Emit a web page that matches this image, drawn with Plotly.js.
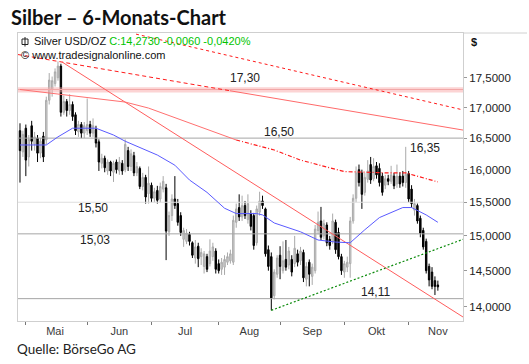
<!DOCTYPE html>
<html><head><meta charset="utf-8">
<script src="https://cdn.plot.ly/plotly-3.0.1.min.js"></script>
<style>html,body{margin:0;padding:0;background:#fff;}#chart{width:529px;height:364px;}</style>
</head><body><div id="chart"></div>
<script>
// ---- daily OHLC (trading-day index 0..143, late April .. mid November) ----
const open = [16.62,16.28,16.66,16.20,16.70,16.40,16.50,16.26,16.53,16.47,
17.12,17.30,17.40,17.50,17.70,16.92,17.10,16.95,17.05,16.88,
16.60,16.72,16.58,16.62,16.72,16.58,16.64,16.44,16.10,16.18,
15.98,16.12,15.96,16.12,15.98,16.10,16.00,16.30,16.05,16.22,
15.95,16.02,15.74,15.88,15.63,15.76,15.56,15.68,15.55,15.70,
15.72,15.06,15.30,15.55,15.48,15.30,14.95,14.92,15.02,14.90,
14.68,14.85,14.70,14.56,14.70,14.60,14.70,14.78,14.60,14.52,
14.55,14.62,14.64,14.62,15.20,15.42,15.28,15.45,15.24,15.33,
15.30,14.90,15.35,15.52,15.40,14.80,14.70,14.15,14.45,14.72,
14.50,14.66,14.58,14.66,14.60,14.74,14.64,14.76,14.38,14.62,
14.42,14.50,15.08,15.22,15.00,15.16,14.95,14.92,15.20,15.05,
14.70,14.48,14.55,14.60,15.22,15.56,16.00,15.95,15.65,15.85,
16.08,15.86,16.06,16.02,15.90,15.76,15.86,15.82,15.90,15.78,
15.90,15.90,15.80,15.94,15.70,15.38,15.45,15.26,15.08,14.92,
14.56,14.48,14.36,14.30];
const high = [16.74,16.62,16.72,16.55,16.78,16.60,16.55,16.50,16.60,17.18,
17.58,17.52,17.66,17.78,17.74,17.20,17.14,17.22,17.10,16.92,
16.78,16.76,16.76,17.15,16.78,16.82,16.70,16.48,16.25,16.22,
16.16,16.14,16.14,16.16,16.20,16.15,16.48,16.36,16.32,16.28,
16.12,16.05,15.95,15.92,16.05,15.80,15.72,15.75,15.80,15.90,
15.78,15.36,15.62,15.90,15.55,15.35,15.12,15.10,15.06,14.92,
14.94,14.90,14.82,14.78,14.74,14.95,14.90,14.82,14.66,14.68,
14.72,14.76,14.80,15.30,15.48,15.62,15.60,15.52,15.62,15.38,
15.34,15.45,15.66,15.60,15.42,14.86,14.76,14.52,14.72,14.85,
14.92,14.94,14.84,14.72,15.00,14.80,14.84,14.80,14.62,14.66,
14.60,15.16,15.36,15.43,15.24,15.20,15.00,15.33,15.24,15.12,
14.74,14.64,14.70,15.28,15.62,16.05,16.08,16.00,15.95,16.15,
16.20,16.18,16.12,16.10,15.95,15.92,15.92,16.06,15.95,16.08,
15.96,15.98,16.36,15.98,15.76,15.55,15.48,15.30,15.12,14.96,
14.60,14.55,14.42,14.36];
const low = [15.80,16.20,15.90,16.05,16.30,16.30,16.12,16.18,16.12,16.40,
17.05,17.18,17.35,17.45,16.85,16.88,16.85,16.88,16.78,16.55,
16.52,16.50,16.50,16.55,16.52,16.52,16.35,15.98,16.02,15.96,
15.92,15.90,15.81,15.94,15.92,15.92,15.96,15.98,15.98,15.90,
15.90,15.70,15.68,15.48,15.48,15.50,15.50,15.48,15.50,15.65,
14.65,15.00,15.22,15.40,15.15,15.00,14.84,14.88,14.86,14.68,
14.60,14.55,14.58,14.46,14.48,14.56,14.64,14.46,14.46,14.44,
14.44,14.58,14.60,14.58,15.12,15.22,15.22,15.25,15.18,15.08,
14.80,14.86,15.30,15.40,14.70,14.50,13.95,14.10,14.40,14.38,
14.46,14.50,14.52,14.42,14.55,14.56,14.58,14.34,14.28,14.28,
14.30,14.46,15.02,14.94,14.95,14.85,14.80,14.88,14.74,14.66,
14.44,14.40,14.48,14.40,15.18,15.50,15.74,15.40,15.60,15.80,
15.78,15.82,15.86,15.74,15.60,15.70,15.76,15.78,15.70,15.72,
15.72,15.74,15.72,15.50,15.42,15.30,15.18,14.98,14.80,14.46,
14.28,14.24,14.16,14.22];
const close = [16.30,16.56,16.15,16.48,16.45,16.52,16.26,16.45,16.20,17.12,
17.46,17.45,17.60,17.70,16.92,17.10,16.95,17.05,16.85,16.62,
16.72,16.58,16.70,16.72,16.58,16.70,16.42,16.12,16.18,16.03,
16.12,15.98,16.10,16.00,16.12,15.98,16.40,16.05,16.25,15.95,
16.05,15.74,15.88,15.58,15.79,15.56,15.66,15.53,15.74,15.82,
15.07,15.30,15.55,15.45,15.20,15.05,15.08,15.04,14.92,14.72,
14.84,14.67,14.76,14.74,14.52,14.78,14.84,14.52,14.50,14.62,
14.66,14.70,14.74,15.23,15.40,15.28,15.45,15.30,15.48,15.14,
14.86,15.40,15.52,15.45,14.74,14.56,14.12,14.48,14.68,14.56,
14.64,14.55,14.78,14.48,14.82,14.62,14.78,14.40,14.56,14.45,
14.55,15.10,15.20,14.98,15.18,14.90,14.86,15.22,14.80,14.70,
14.50,14.60,14.62,15.22,15.56,15.95,15.80,15.62,15.88,15.98,
15.84,16.05,15.92,15.80,15.65,15.86,15.82,15.92,15.75,15.90,
15.78,15.80,15.93,15.55,15.48,15.48,15.22,15.04,14.84,14.50,
14.37,14.28,14.279,14.273];

// ---- axis categories / ticks ----
const monthNames = ['Mai','Jun','Jul','Aug','Sep','Okt','Nov'];
const monthStart = [2,23,45,68,89,111,133];
const monthMid = [12,34,56.5,78.5,100,122,143];
const yTicks = [14,14.5,15,15.5,16,16.5,17,17.5];

// ---- indicators (index, price) ----
const maBlueX = [0,9,13,16,18,26,32,36,47,53,58,64,70,74,81,83,87,96,102,108,113,118,123,131,134,139,143];
const maBlueY = [16.39,16.39,16.52,16.61,16.66,16.66,16.55,16.45,16.23,16.07,15.84,15.65,15.41,15.33,15.33,15.31,15.19,15.06,14.94,14.91,14.90,15.09,15.27,15.42,15.42,15.31,15.20];
const maRedX = [0,10,36,44,58,74,87,96,111,126,132,143];
const maRedY = [17.30,17.24,17.09,16.99,16.75,16.47,16.31,16.15,15.97,15.95,15.95,15.81];

// trend lines (endpoints)
const X0 = -0.68, X1 = 151.6;
const trendTopX = [39.7, X1], trendTopY = [18.26, 16.96];
const trendMidDashX = [X0, 71.8], trendMidDashY = [17.90, 17.28];
const trendMidSolidX = [71.8, X1], trendMidSolidY = [17.28, 16.63];
const trendSteepX = [14.4, X1], trendSteepY = [17.77, 13.86];
const supportX = [86, X1], supportY = [13.95, 14.95];

// horizontal levels
const bandLevel = 17.30, bandLo = 17.25, bandHi = 17.34;
const greyLevels = [16.50, 15.03, 14.11];
const lightLevels = [15.50];
const levelLabels = [17.30, 16.50, 15.50, 15.03, 16.35, 14.11];
const levelLabelX = [77, 88.6, 25, 25.7, 138.6, 121.8];
const levelLabelShift = [12, 6, -6, -6, -1, 7];

const fmt = (v, d) => v.toFixed(d).replace('.', ',');
const F = 'Liberation Sans, Arial, sans-serif';
const idx = close.map((_, i) => i);

const traces = [];
traces.push({x:[X0,X1,X1,X0,X0], y:[bandHi,bandHi,bandLo,bandLo,bandHi], mode:'lines', fill:'toself',
  fillcolor:'rgba(250,170,170,0.5)', line:{width:0}, hoverinfo:'skip', showlegend:false});
traces.push({x:[X0,X1], y:[bandLevel,bandLevel], mode:'lines', line:{color:'#f2a6a6', width:1}, showlegend:false});
greyLevels.forEach(v => traces.push({x:[X0,X1], y:[v,v], mode:'lines', line:{color:'#a5a5a5', width:1}, showlegend:false}));
lightLevels.forEach(v => traces.push({x:[X0,X1], y:[v,v], mode:'lines', line:{color:'#dedede', width:1}, showlegend:false}));

traces.push({x:trendTopX, y:trendTopY, mode:'lines', line:{color:'#ff1a1a', width:1, dash:'3px,3px'}, showlegend:false});
traces.push({x:trendMidDashX, y:trendMidDashY, mode:'lines', line:{color:'#ff1a1a', width:1, dash:'4px,3px'}, showlegend:false});
traces.push({x:trendMidSolidX, y:trendMidSolidY, mode:'lines', line:{color:'#ff6a6a', width:1}, showlegend:false});
traces.push({x:trendSteepX, y:trendSteepY, mode:'lines', line:{color:'#ff5c5c', width:1}, showlegend:false});
traces.push({x:supportX, y:supportY, mode:'lines', line:{color:'#0a8a0a', width:1.2, dash:'2px,2px'}, showlegend:false});

const redSolid = maRedX.map((x,i)=>[x,maRedY[i]]).filter(p=>p[0]<=74);
const redDash = maRedX.map((x,i)=>[x,maRedY[i]]).filter(p=>p[0]>=74);
traces.push({x:redSolid.map(p=>p[0]), y:redSolid.map(p=>p[1]), mode:'lines', line:{color:'#ff7070', width:1}, showlegend:false});
traces.push({x:redDash.map(p=>p[0]), y:redDash.map(p=>p[1]), mode:'lines', line:{color:'#ff1a1a', width:1.2, dash:'4px,2px,1px,2px'}, showlegend:false});
traces.push({x:maBlueX, y:maBlueY, mode:'lines', line:{color:'#5a5aff', width:1}, showlegend:false});

traces.push({type:'candlestick', x:idx, open:open, high:high, low:low, close:close,
  increasing:{line:{color:'#a9a9a9', width:1}, fillcolor:'#d2d2d2'},
  decreasing:{line:{color:'#000000', width:1}, fillcolor:'#000000'},
  whiskerwidth:0, showlegend:false, hoverinfo:'skip'});

const last = close.length - 1;
const chg = close[last] - close[last-1];
const pct = chg / close[last-1] * 100;

const pxX = p => (p - 18) / 445, pxY = p => (321 - p) / 288;
const ann = [];
ann.push({xref:'paper', yref:'paper', x:pxX(9), y:pxY(17), xanchor:'left', yanchor:'middle', showarrow:false,
  text:'<b>Silber – 6-Monats-Chart</b>', font:{family:'Lato, sans-serif', size:20, color:'#111'}});
ann.push({xref:'paper', yref:'paper', x:pxX(15), y:pxY(349), xanchor:'left', yanchor:'middle', showarrow:false,
  text:'Quelle: BörseGo AG', font:{family:'Lato, sans-serif', size:13.5, color:'#222'}});
ann.push({xref:'paper', yref:'paper', x:pxX(32), y:pxY(41.5), xanchor:'left', yanchor:'middle', showarrow:false,
  text:'Silver USD/OZ <span style="color:#00c400">C:' + fmt(close[last],4) + ' ' + fmt(chg,4) + ' ' + fmt(pct,4) + '%</span>',
  font:{family:F, size:11, color:'#111'}});
ann.push({xref:'paper', yref:'paper', x:pxX(19), y:pxY(55), xanchor:'left', yanchor:'middle', showarrow:false,
  text:'© www.tradesignalonline.com', font:{family:F, size:11, color:'#111'}});
ann.push({xref:'paper', yref:'paper', x:pxX(474), y:pxY(42), xanchor:'center', yanchor:'middle', showarrow:false,
  text:'<b>$</b>', font:{family:F, size:11, color:'#111'}});
levelLabels.forEach((v,i) => ann.push({xref:'x', yref:'y', x:levelLabelX[i], y:Math.log10(v), yshift:levelLabelShift[i],
  xanchor:'center', yanchor:'middle', showarrow:false, text:fmt(v,2), font:{family:F, size:12, color:'#222'}}));

const layout = {
  width:529, height:364, paper_bgcolor:'#fff', plot_bgcolor:'#fff',
  margin:{l:18, r:66, t:33, b:43}, showlegend:false,
  xaxis:{range:[X0,X1], showline:true, mirror:true, linecolor:'#cfcfcf', linewidth:1, showgrid:false, zeroline:false,
    tickmode:'array', tickvals:monthMid, ticktext:monthNames, ticks:'',
    tickfont:{family:F, size:11, color:'#3a3a3a'},
    minor:{tickmode:'array', tickvals:monthStart, ticks:'outside', ticklen:3, tickcolor:'#777', showgrid:false},
    rangeslider:{visible:false}, fixedrange:true},
  yaxis:{type:'log', side:'right', range:[Math.log10(13.806), Math.log10(18.28)], showline:true, mirror:true,
    linecolor:'#cfcfcf', linewidth:1, showgrid:false, zeroline:false,
    tickmode:'array', tickvals:yTicks, ticktext:yTicks.map(v=>fmt(v,4)), ticks:'outside', ticklen:3, tickcolor:'#999',
    tickfont:{family:F, size:11.5, color:'#222'}, fixedrange:true},
  shapes:[
    {type:'line', xref:'paper', yref:'paper', x0:1, x1:pxX(527), y0:1, y1:1, line:{color:'#d0d0d0', width:1}},
    {type:'rect', xref:'paper', yref:'paper', x0:pxX(22), x1:pxX(28), y0:pxY(44.5), y1:pxY(39), line:{color:'#222', width:1}, fillcolor:'#fff'},
    {type:'line', xref:'paper', yref:'paper', x0:pxX(25), x1:pxX(25), y0:pxY(46.5), y1:pxY(37), line:{color:'#222', width:1}}
  ],
  annotations:ann
};
Plotly.newPlot('chart', traces, layout, {staticPlot:true, displayModeBar:false});
</script></body></html>
